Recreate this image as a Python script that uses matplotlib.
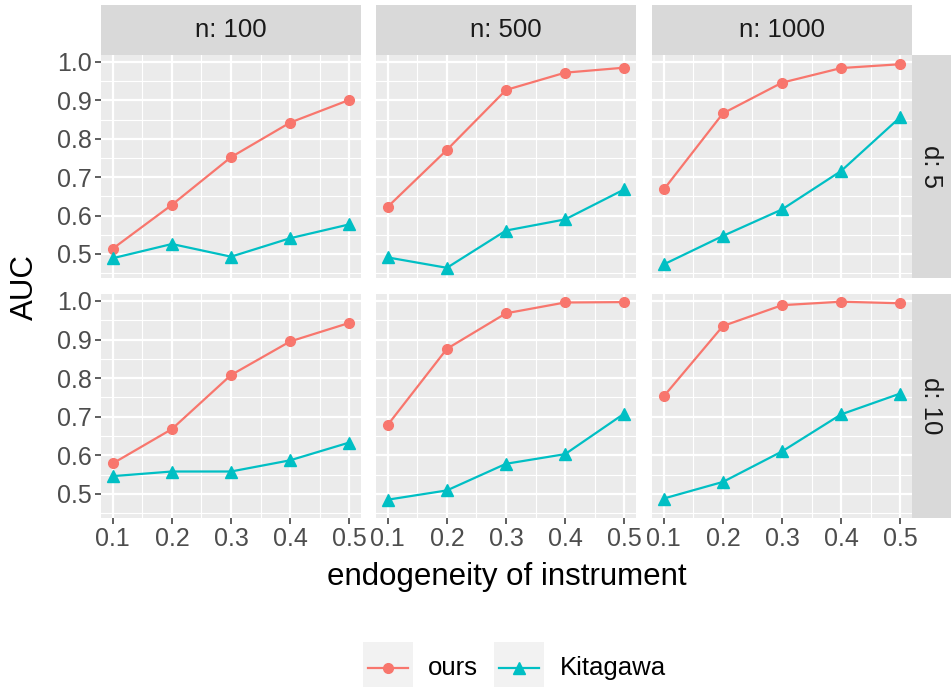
import matplotlib
matplotlib.use("Agg")
import matplotlib.pyplot as plt
from matplotlib.patches import Rectangle
from matplotlib.lines import Line2D
import numpy as np

plt.rcParams['font.family'] = ['Liberation Sans', 'DejaVu Sans']

x = [0.1, 0.2, 0.3, 0.4, 0.5]
n_levels = ["n: 100", "n: 500", "n: 1000"]
d_levels = ["d: 5", "d: 10"]
series_names = ["ours", "Kitagawa"]

# row d=5
ours_d5_n100 = [0.514, 0.628, 0.752, 0.842, 0.901]
ours_d5_n500 = [0.623, 0.771, 0.927, 0.972, 0.985]
ours_d5_n1000 = [0.668, 0.866, 0.946, 0.984, 0.994]
kit_d5_n100 = [0.489, 0.526, 0.493, 0.541, 0.577]
kit_d5_n500 = [0.491, 0.464, 0.561, 0.590, 0.668]
kit_d5_n1000 = [0.473, 0.547, 0.616, 0.716, 0.856]
# row d=10
ours_d10_n100 = [0.579, 0.668, 0.808, 0.895, 0.943]
ours_d10_n500 = [0.679, 0.876, 0.968, 0.996, 0.997]
ours_d10_n1000 = [0.753, 0.935, 0.989, 0.998, 0.994]
kit_d10_n100 = [0.546, 0.558, 0.558, 0.587, 0.633]
kit_d10_n500 = [0.485, 0.509, 0.578, 0.603, 0.708]
kit_d10_n1000 = [0.488, 0.531, 0.610, 0.706, 0.760]

ours = [[ours_d5_n100, ours_d5_n500, ours_d5_n1000],
        [ours_d10_n100, ours_d10_n500, ours_d10_n1000]]
kit = [[kit_d5_n100, kit_d5_n500, kit_d5_n1000],
       [kit_d10_n100, kit_d10_n500, kit_d10_n1000]]

yticks = [0.5, 0.6, 0.7, 0.8, 0.9, 1.0]
ytick_labels = ["0.5", "0.6", "0.7", "0.8", "0.9", "1.0"]
xtick_labels = ["0.1", "0.2", "0.3", "0.4", "0.5"]

C_OURS = "#F8766D"
C_KIT = "#00BFC4"

W, H = 951, 687
fig = plt.figure(figsize=(W / 100, H / 100), dpi=100)

def px(x0, y0, x1, y1):
    return [x0 / W, 1 - y1 / H, (x1 - x0) / W, (y1 - y0) / H]

cols = [(101, 361), (376, 636), (652, 912)]
rows = [(55, 278), (294, 518)]
ylim = (0.4375, 1.018)
xlim = (0.08, 0.52)
TXT = 18

for r, (y0, y1) in enumerate(rows):
    for c, (x0, x1) in enumerate(cols):
        ax = fig.add_axes(px(x0, y0, x1, y1))
        ax.set_facecolor("#EBEBEB")
        for s in ax.spines.values():
            s.set_visible(False)
        ax.set_xlim(*xlim)
        ax.set_ylim(*ylim)
        ax.set_xticks(x)
        ax.set_yticks(yticks)
        ax.set_xticks([0.15, 0.25, 0.35, 0.45], minor=True)
        ax.set_yticks([0.45, 0.55, 0.65, 0.75, 0.85, 0.95], minor=True)
        ax.grid(True, which="major", color="white", lw=1.6)
        ax.grid(True, which="minor", color="white", lw=0.8)
        ax.set_axisbelow(True)
        ax.tick_params(which="minor", length=0)
        ax.tick_params(which="major", length=4.3, width=1.1, color="#333333",
                       labelcolor="#4D4D4D", labelsize=TXT, pad=2.5)
        if c == 0:
            ax.set_yticklabels(ytick_labels)
        else:
            ax.tick_params(axis="y", which="major", left=False, labelleft=False)
        if r == 1:
            ax.set_xticklabels(xtick_labels)
        else:
            ax.tick_params(axis="x", which="major", bottom=False, labelbottom=False)
        ax.plot(x, ours[r][c], color=C_OURS, lw=1.6, marker="o", ms=7, zorder=3)
        ax.plot(x, kit[r][c], color=C_KIT, lw=1.6, marker="^", ms=9, zorder=3)

# strips
for c, (x0, x1) in enumerate(cols):
    sax = fig.add_axes(px(x0, 5, x1, 55))
    sax.set_facecolor("#D9D9D9")
    sax.set_xticks([]); sax.set_yticks([])
    for s in sax.spines.values():
        s.set_visible(False)
    sax.text(0.5, 0.5, n_levels[c], ha="center", va="center", fontsize=18.5,
             color="#1A1A1A", transform=sax.transAxes)
for r, (y0, y1) in enumerate(rows):
    sax = fig.add_axes(px(912, y0, 951, y1))
    sax.set_facecolor("#D9D9D9")
    sax.set_xticks([]); sax.set_yticks([])
    for s in sax.spines.values():
        s.set_visible(False)
    sax.text(0.5, 0.5, d_levels[r], ha="center", va="center", fontsize=18.5,
             color="#1A1A1A", rotation=-90, transform=sax.transAxes)

# axis titles
fig.text(506.5 / W, 1 - 577 / H, "endogeneity of instrument", ha="center",
         va="center", fontsize=22.5, color="black")
fig.text(25 / W, 1 - 287 / H, "AUC", ha="center", va="center", fontsize=22.5,
         rotation=90, color="black")

# legend
lax = fig.add_axes([0, 0, 1, 1], zorder=-1)
lax.set_xlim(0, W); lax.set_ylim(H, 0); lax.axis("off")
keys = [(363, C_OURS, "o", 7, 428), (494, C_KIT, "^", 9, 560)]
for (kx, col, mk, ms, tx), name in zip(keys, series_names):
    lax.add_patch(Rectangle((kx, 642), 50, 45, facecolor="#F2F2F2", edgecolor="none"))
    lax.add_line(Line2D([kx + 5, kx + 45], [668, 668], color=col, lw=1.6))
    lax.plot([kx + 25], [668], marker=mk, color=col, ms=ms)
    lax.text(tx, 668, name, ha="left", va="center", fontsize=18.5, color="black")

fig.savefig("out.png", dpi=100)
